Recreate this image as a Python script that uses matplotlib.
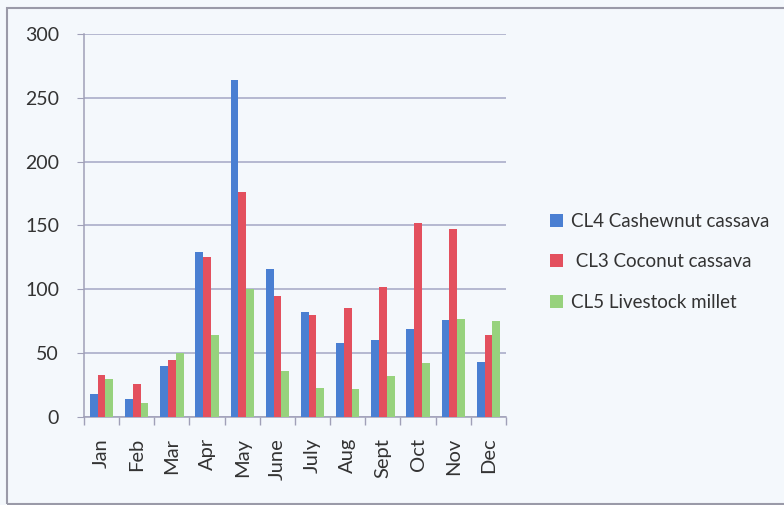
import numpy as np
import matplotlib.pyplot as plt
from matplotlib.patches import Rectangle

# Monthly values
months = ['Jan', 'Feb', 'Mar', 'Apr', 'May', 'June', 'July', 'Aug',
          'Sept', 'Oct', 'Nov', 'Dec']
cl4_cashew = [18, 14, 40, 129, 264, 116, 82, 58, 60, 69, 76, 43]
cl3_coconut = [33, 26, 45, 125, 176, 95, 80, 85, 102, 152, 147, 64]
cl5_millet = [30, 11, 50, 64, 100, 36, 23, 22, 32, 42, 77, 75]

labels = ['CL4 Cashewnut cassava', ' CL3 Coconut cassava', 'CL5 Livestock millet']
colors = ['#4a7fd2', '#e3505e', '#97d27d']

plt.rcParams['font.family'] = ['Lato', 'DejaVu Sans']

fig = plt.figure(figsize=(7.84, 5.05), dpi=100, facecolor='#f4f8fc')
ax = fig.add_axes([84 / 784, 1 - 417 / 505, 422 / 784, 383 / 505])
ax.set_facecolor('#f4f8fc')

# outer chart border (scanned frame)
fig.patches.append(Rectangle((7 / 784, 1 / 505), 1.2, 496 / 505,
                             transform=fig.transFigure, fill=False,
                             edgecolor='#9a9aa8', linewidth=1.5))

x = np.arange(len(months))
w = 0.22
for i, (vals, lab, col) in enumerate(zip([cl4_cashew, cl3_coconut, cl5_millet],
                                          labels, colors)):
    ax.bar(x + (i - 1) * w, vals, width=w, color=col, label=lab, zorder=3)

ax.set_xlim(-0.5, len(months) - 0.5)
ax.set_ylim(0, 300)
ax.set_yticks(np.arange(0, 301, 50))
ax.set_xticks(x)
ax.set_xticklabels(months, rotation=90, fontsize=14.5, color='#333333')
ax.tick_params(axis='x', length=0, pad=15)
ax.set_xticks(np.arange(-0.5, len(months)), minor=True)
ax.tick_params(axis='x', which='minor', length=6, color='#a0a0b8', width=1)
ax.tick_params(axis='y', labelsize=14, labelcolor='#333333', length=5,
               color='#a0a0b8', pad=13)

ax.grid(axis='y', color='#a4a6c4', linewidth=1.1, zorder=0)
for s in ['top', 'right']:
    ax.spines[s].set_visible(False)
for s in ['left', 'bottom']:
    ax.spines[s].set_color('#a0a0b8')
    ax.spines[s].set_linewidth(1.1)

fig.legend(loc='upper left', bbox_to_anchor=(533 / 784, 1 - 196 / 505),
           frameon=False, fontsize=13.5, handlelength=0.7, handleheight=0.7,
           handletextpad=0.45, labelspacing=1.25, labelcolor='#333333')

plt.savefig('out.png', dpi=100, facecolor=fig.get_facecolor())
